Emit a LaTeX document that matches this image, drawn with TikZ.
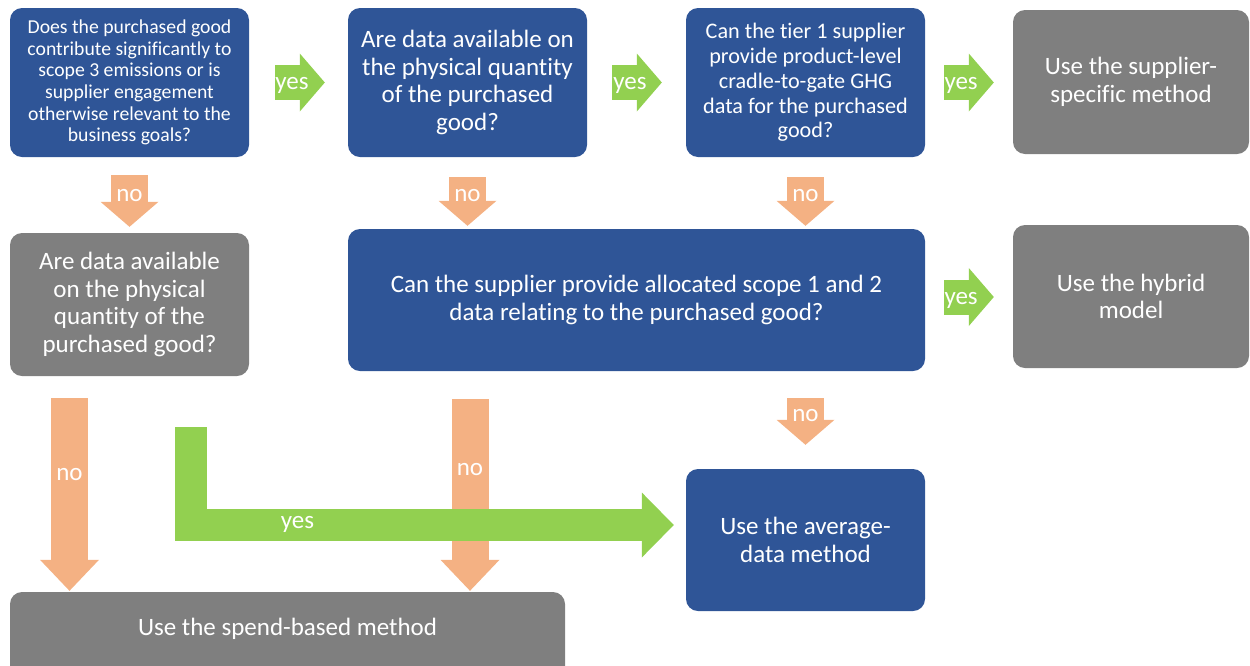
\documentclass[tikz,border=0pt]{standalone}
\usepackage{fontspec}
\setmainfont{Carlito}[Ligatures=NoCommon]
\usetikzlibrary{arrows.meta}
\definecolor{boxblue}{HTML}{2F5597}
\definecolor{boxgray}{HTML}{7F7F7F}
\definecolor{yesgreen}{HTML}{92D050}
\definecolor{noorange}{HTML}{F4B183}
\tikzset{
  box/.style={rounded corners=12pt, inner sep=0pt, align=center, text=white,
    font=\fontsize{25}{27.5}\selectfont},
  bluebox/.style={box, fill=boxblue},
  graybox/.style={box, fill=boxgray},
  yesarrow/.style={draw=yesgreen, line width=35pt,
    -{Triangle[length=25pt,width=58pt,line width=0pt]}},
  noarrow/.style={draw=noorange, line width=37pt,
    -{Triangle[length=25pt,width=58pt,line width=0pt]}},
  longno/.style={draw=noorange, line width=37pt,
    -{Triangle[length=31pt,width=59pt,line width=0pt]}},
  lbl/.style={text=white, inner sep=0pt, yshift=-3pt,
    font=\fontsize{25}{26}\selectfont},
}
\begin{document}
\begin{tikzpicture}[x=1pt,y=-1pt]
\useasboundingbox (0,0) rectangle (1250,665);

% decision boxes
\node[bluebox, minimum width=239pt, minimum height=149pt,
      font=\fontsize{19.7}{21.7}\selectfont] (q1) at (129.5,82.5)
  {Does the purchased good\\contribute significantly to\\scope 3 emissions or is\\supplier engagement\\otherwise relevant to the\\business goals?};
\node[bluebox, minimum width=239pt, minimum height=149pt] (q2) at (467.5,82.5)
  {Are data available on\\the physical quantity\\of the purchased\\good?};
\node[bluebox, minimum width=239pt, minimum height=149pt,
      font=\fontsize{22.2}{24.7}\selectfont] (q3) at (805.5,82.5)
  {Can the tier 1 supplier\\provide product-level\\cradle-to-gate GHG\\data for the purchased\\good?};
\node[graybox, minimum width=239pt, minimum height=143pt] (q4) at (129.5,304.5)
  {Are data available\\on the physical\\quantity of the\\purchased good?};
\node[bluebox, minimum width=577pt, minimum height=142pt] (q5) at (636.5,300)
  {Can the supplier provide allocated scope 1 and 2\\data relating to the purchased good?};

% method boxes
\node[graybox, minimum width=236pt, minimum height=144pt,
      font=\fontsize{25}{28}\selectfont] (r1) at (1131,82)
  {Use the supplier-\\specific method};
\node[graybox, minimum width=236pt, minimum height=143pt] (r2) at (1131,296.5)
  {Use the hybrid\\model};
\node[bluebox, minimum width=239pt, minimum height=142pt] (r3) at (805.5,540)
  {Use the average-\\data method};
\node[graybox, minimum width=555pt, minimum height=90pt,
      text height=17.5pt, text depth=21pt] (r4) at (287.5,637)
  {Use the spend-based method};

% "yes" arrows
\draw[yesarrow, shorten <=26pt, shorten >=23pt] (q1.east) -- (q2.west)
  node[lbl, pos=0.434] (y1) {yes};
\draw[yesarrow, shorten <=25pt, shorten >=24pt] (q2.east) -- (q3.west)
  node[lbl, pos=0.434] (y2) {yes};
\draw[yesarrow, shorten <=19pt, shorten >=19pt] (q3.east) -- (q3.east -| r1.west)
  node[lbl, pos=0.41] (y3) {yes};
\draw[yesarrow, shorten <=19pt, shorten >=19pt]
  ([yshift=3pt]q5.east) -- ([yshift=3pt]q5.east -| r2.west)
  node[lbl, pos=0.41] (y4) {yes};

% "no" arrows
\draw[noarrow, shorten <=18pt, shorten >=6pt] (q1.south) -- (q4.north)
  node[lbl, pos=0.47] (n1) {no};
\draw[noarrow, shorten <=20pt, shorten >=3pt] (q2.south) -- (q2.south |- q5.north)
  node[lbl, pos=0.5] (n2) {no};
\draw[noarrow, shorten <=20pt, shorten >=3pt] (q3.south) -- (q3.south |- q5.north)
  node[lbl, pos=0.5] (n3) {no};
\draw[noarrow, shorten <=27pt, shorten >=24pt] (r3.north |- q5.south) -- (r3.north)
  node[lbl, pos=0.42] (n4) {no};
\draw[longno, shorten <=22pt, shorten >=1pt]
  ([xshift=-60pt]q4.south) -- ([xshift=-60pt]q4.south |- r4.north)
  node[lbl, pos=0.44] (n5) {no};
\draw[longno, shorten <=28pt, shorten >=1pt]
  ([xshift=182.5pt]r4.north |- q5.south) -- ([xshift=182.5pt]r4.north)
  node[lbl, pos=0.434] (n6) {no};

% bent "yes" arrow from the left question to the average-data box
\draw[draw=yesgreen, line width=32pt, line join=miter,
      -{Triangle[length=32pt,width=65pt,line width=0pt]},
      shorten <=51pt, shorten >=12pt]
  ([xshift=61pt]q4.south) |- ([yshift=15pt]r3.west)
  node[lbl, pos=0.608, yshift=4pt] (y5) {yes};
\end{tikzpicture}
\end{document}
